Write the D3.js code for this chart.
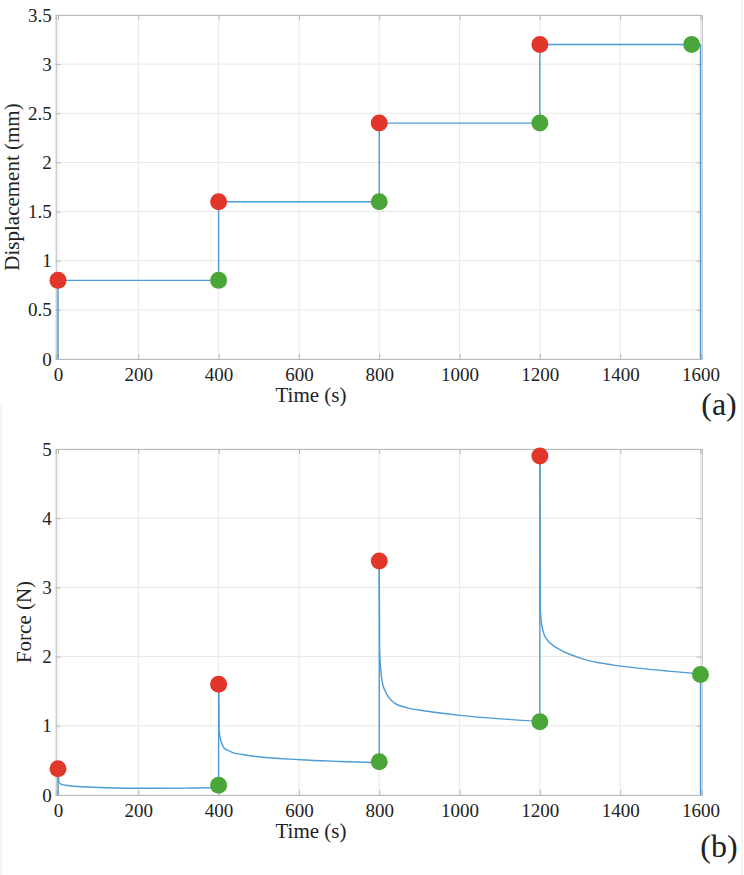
<!DOCTYPE html>
<html>
<head>
<meta charset="utf-8">
<script src="https://cdn.jsdelivr.net/npm/d3@7"></script>
<style>
  body { margin: 0; background: #fff; }
</style>
</head>
<body>
<div id="chart"></div>
<script>
// x ticks shared by both panels
const timeTicks = [0, 200, 400, 600, 800, 1000, 1200, 1400, 1600];
const dispTicks = [0, 0.5, 1, 1.5, 2, 2.5, 3, 3.5];
const forceTicks = [0, 1, 2, 3, 4, 5];

// displacement trace (mm)
const dispTime = [0, 0, 400, 400, 800, 800, 1200, 1200, 1600, 1600];
const dispVal  = [0, 0.8, 0.8, 1.6, 1.6, 2.4, 2.4, 3.2, 3.2, 0];
const dispRedT = [0, 400, 800, 1200];
const dispRedV = [0.8, 1.6, 2.4, 3.2];
const dispGreenT = [400, 800, 1200, 1578];
const dispGreenV = [0.8, 1.6, 2.4, 3.2];

// force trace (N)
const forceTime = [0, 0, 2, 6, 20, 60, 120, 230, 320, 400,
  400, 401, 405, 409, 413, 425, 437, 460, 487, 603, 703, 800,
  800, 801, 804, 808, 815, 825, 840, 870, 920, 1002, 1102, 1200,
  1200, 1201, 1205, 1212, 1225, 1250, 1290, 1330, 1380, 1450, 1520, 1600, 1600];
const forceVal = [0, 0.38, 0.2, 0.16, 0.14, 0.12, 0.105, 0.097, 0.1, 0.106,
  1.6, 0.95, 0.8, 0.73, 0.68, 0.64, 0.61, 0.585, 0.56, 0.51, 0.485, 0.465,
  3.38, 2.1, 1.8, 1.62, 1.5, 1.4, 1.32, 1.26, 1.21, 1.15, 1.1, 1.065,
  4.9, 2.69, 2.45, 2.3, 2.2, 2.1, 2.0, 1.93, 1.88, 1.83, 1.79, 1.75, 0];
const forceRedT = [0, 400, 800, 1200];
const forceRedV = [0.38, 1.6, 3.38, 4.9];
const forceGreenT = [400, 800, 1200, 1600];
const forceGreenV = [0.14, 0.48, 1.06, 1.74];

const W = 744, H = 875;
const serif = '"Liberation Serif", "Times New Roman", "DejaVu Serif", serif';
const lineColor = "#4a9bd6", redColor = "#e2362b", greenColor = "#4ba63a";
const axisColor = "#b9b9b9", gridColor = "#e8e8e8";

const svg = d3.select("#chart").append("svg")
  .attr("width", W).attr("height", H);

// faint frame of the lower panel image
svg.append("line").attr("x1", 1).attr("x2", 1).attr("y1", 405).attr("y2", H)
  .attr("stroke", "#ececec");
svg.append("line").attr("x1", 742).attr("x2", 742).attr("y1", 0).attr("y2", H)
  .attr("stroke", "#ececec");

function panel(opts) {
  const x = d3.scaleLinear().domain([-5.7, 1603]).range([55.7, 701.7]);
  const y = d3.scaleLinear().domain(opts.yDomain).range([opts.bottom, opts.top]);
  const g = svg.append("g").attr("font-family", serif);

  // grid
  g.selectAll(".gx").data(timeTicks).enter().append("line")
    .attr("x1", d => x(d)).attr("x2", d => x(d))
    .attr("y1", opts.top).attr("y2", opts.bottom)
    .attr("stroke", gridColor);
  g.selectAll(".gy").data(opts.yTicks).enter().append("line")
    .attr("x1", x.range()[0]).attr("x2", x.range()[1])
    .attr("y1", d => y(d)).attr("y2", d => y(d))
    .attr("stroke", gridColor);

  // axes, ticks inward on all sides
  const tick = 5;
  const bottomAxis = g.append("g").attr("transform", "translate(0," + opts.bottom + ")")
    .call(d3.axisBottom(x).tickValues(timeTicks).tickSize(-tick).tickPadding(9).tickFormat(d3.format("d")));
  const topAxis = g.append("g").attr("transform", "translate(0," + opts.top + ")")
    .call(d3.axisTop(x).tickValues(timeTicks).tickSize(-tick).tickFormat(""));
  const leftAxis = g.append("g").attr("transform", "translate(" + x.range()[0] + ",0)")
    .call(d3.axisLeft(y).tickValues(opts.yTicks).tickSize(-tick).tickPadding(4).tickFormat(d => String(d)));
  const rightAxis = g.append("g").attr("transform", "translate(" + x.range()[1] + ",0)")
    .call(d3.axisRight(y).tickValues(opts.yTicks).tickSize(-tick).tickFormat(""));
  [bottomAxis, topAxis, leftAxis, rightAxis].forEach(a => {
    a.attr("font-family", serif).attr("font-size", 19);
    a.select(".domain").attr("stroke", axisColor);
    a.selectAll(".tick line").attr("stroke", axisColor);
    a.selectAll("text").style("font-family", serif).style("font-size", "19px").attr("fill", "#222");
  });

  // trace: vertical jumps drawn straight, relaxation runs drawn smooth
  const pts = opts.time.map((t, i) => [t, opts.val[i]]);
  const runs = [];
  let run = [pts[0]];
  for (let i = 1; i < pts.length; i++) {
    if (pts[i][0] === pts[i - 1][0]) {
      if (run.length > 1) runs.push({ p: run, smooth: true });
      runs.push({ p: [pts[i - 1], pts[i]], smooth: false });
      run = [pts[i]];
    } else {
      run.push(pts[i]);
    }
  }
  if (run.length > 1) runs.push({ p: run, smooth: true });

  const lineSmooth = d3.line().x(d => x(d[0])).y(d => y(d[1])).curve(d3.curveMonotoneX);
  const lineStraight = d3.line().x(d => x(d[0])).y(d => y(d[1]));
  g.selectAll(".trace").data(runs).enter().append("path")
    .attr("fill", "none").attr("stroke", lineColor).attr("stroke-width", 1.4)
    .attr("stroke-linejoin", "round")
    .attr("d", d => (d.smooth ? lineSmooth : lineStraight)(d.p));

  // markers
  const markers = opts.redT.map((t, i) => ({ t: t, v: opts.redV[i], c: redColor }))
    .concat(opts.greenT.map((t, i) => ({ t: t, v: opts.greenV[i], c: greenColor })));
  g.selectAll(".m").data(markers).enter().append("circle")
    .attr("cx", d => x(d.t)).attr("cy", d => y(d.v)).attr("r", 8.5)
    .attr("fill", d => d.c);

  // labels
  g.append("text").attr("x", 311).attr("y", opts.bottom + 43)
    .attr("text-anchor", "middle").style("font-family", serif).style("font-size", "21px")
    .attr("fill", "#222").text("Time (s)");
  g.append("text")
    .attr("transform", "translate(" + opts.yLabelX + "," + ((opts.top + opts.bottom) / 2) + ") rotate(-90)")
    .attr("text-anchor", "middle").style("font-family", serif).style("font-size", "21px")
    .attr("fill", "#222").text(opts.yLabel);
  g.append("text").attr("x", 719).attr("y", opts.tagY)
    .attr("text-anchor", "middle").style("font-family", serif).style("font-size", "32px")
    .attr("fill", "#222").text(opts.tag);
}

panel({
  top: 15, bottom: 359, yDomain: [0, 3.5], yTicks: dispTicks,
  time: dispTime, val: dispVal,
  redT: dispRedT, redV: dispRedV, greenT: dispGreenT, greenV: dispGreenV,
  yLabel: "Displacement (mm)", yLabelX: 19, tag: "(a)", tagY: 415
});

panel({
  top: 449, bottom: 795, yDomain: [0, 5], yTicks: forceTicks,
  time: forceTime, val: forceVal,
  redT: forceRedT, redV: forceRedV, greenT: forceGreenT, greenV: forceGreenV,
  yLabel: "Force (N)", yLabelX: 31, tag: "(b)", tagY: 857
});
</script>
</body>
</html>
